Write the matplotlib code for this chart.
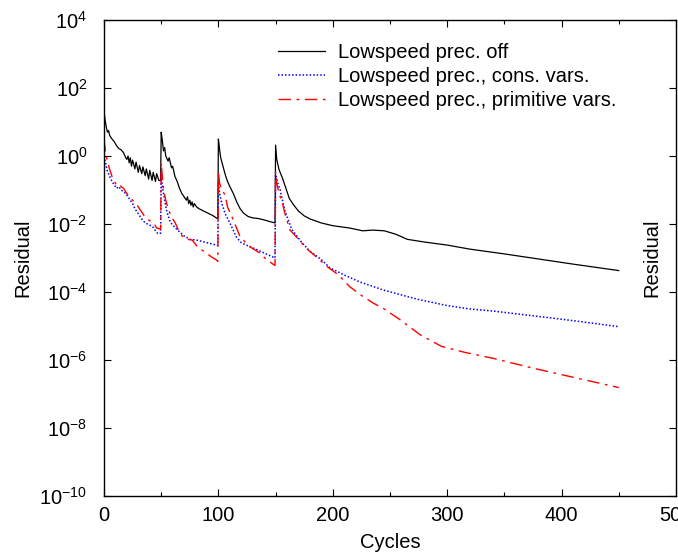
import numpy as np
import matplotlib
matplotlib.use('Agg')
import matplotlib.pyplot as plt
from matplotlib.ticker import FixedLocator, MultipleLocator, LogFormatterMathtext

plt.rcParams['font.family'] = ['Liberation Sans', 'DejaVu Sans']
plt.rcParams['mathtext.default'] = 'regular'
plt.rcParams['font.size'] = 14.5

# residual histories (log10 of residual)
off_cycles = [0, 1, 2, 3, 4, 5, 7, 9, 11, 13, 15, 17, 19, 20, 21, 22, 23, 24, 25, 27, 28,
              30, 31, 33, 34, 36, 37, 39, 40, 42, 43, 45, 46, 48, 49.5,
              50, 51, 52, 53, 54, 56, 57, 59, 60, 62, 64, 66, 68, 70, 72, 73, 74, 75, 76, 77,
              78, 79, 81, 83, 86, 89, 92, 95, 99.5,
              100, 101, 102, 104, 106, 108, 110, 113, 116, 119, 122, 126, 130, 135, 140, 145, 149.5,
              150, 151, 153, 156, 159, 162, 166, 170, 175, 180, 190, 200, 215, 226, 235, 245,
              255, 265, 280, 300, 320, 350, 380, 410, 450]
off_log = [1.3, 1.05, 0.85, 0.7, 0.75, 0.6, 0.5, 0.42, 0.3, 0.22, 0.18, 0.1, -0.05, -0.1, 0.0, -0.2,
           -0.05, -0.3, -0.12, -0.38, -0.18, -0.48, -0.28, -0.52, -0.32, -0.58, -0.38, -0.68, -0.42,
           -0.72, -0.48, -0.75, -0.52, -0.72, -0.72,
           0.7, 0.45, 0.15, 0.25, 0.0, -0.15, -0.05, -0.35, -0.3, -0.6, -0.75, -0.95, -1.1, -1.2,
           -1.3, -1.2, -1.4, -1.3, -1.45, -1.35, -1.5, -1.4, -1.5, -1.55, -1.6, -1.65, -1.7, -1.75,
           -1.85,
           0.5, 0.2, -0.05, -0.3, -0.55, -0.75, -0.9, -1.1, -1.35, -1.55, -1.68, -1.78, -1.82,
           -1.84, -1.88, -1.93, -1.97,
           0.32, -0.1, -0.4, -0.65, -0.95, -1.25, -1.45, -1.62, -1.76, -1.85, -1.97, -2.05, -2.12,
           -2.2, -2.18, -2.2, -2.3, -2.45, -2.53, -2.62, -2.74, -2.88, -3.03, -3.18, -3.37]

cons_cycles = [0, 1, 2, 3, 5, 7, 9, 11, 13, 15, 17, 19, 21, 23, 25, 27, 30, 33, 36, 40, 43, 45,
               47, 49.5,
               50, 51, 53, 55, 58, 62, 65, 70, 75, 82, 91, 99.5,
               100, 101, 103, 106, 110, 116, 120, 125, 134, 143, 149.5,
               150, 152, 154, 158, 164, 173, 180, 190, 197.6, 210, 224, 244, 273.6, 300, 320,
               340, 370, 400, 430, 450]
cons_log = [0.1, -0.15, -0.3, -0.45, -0.6, -0.75, -0.85, -0.95, -0.9, -1.0, -1.05, -1.1, -1.2,
            -1.3, -1.4, -1.55, -1.7, -1.85, -1.97, -2.03, -2.1, -2.2, -2.28, -2.27,
            -0.5, -0.9, -1.3, -1.65, -1.95, -2.1, -2.2, -2.35, -2.45, -2.48, -2.56, -2.63,
            -0.75, -1.1, -1.4, -1.7, -1.97, -2.4, -2.55, -2.63, -2.76, -2.9, -3.0,
            -0.55, -0.8, -1.0, -1.6, -2.15, -2.55, -2.8, -3.05, -3.29, -3.5, -3.71, -3.94, -4.21,
            -4.4, -4.5, -4.56, -4.68, -4.8, -4.93, -5.02]

prim_cycles = [0, 1, 2, 3, 5, 7, 9, 11, 13, 15, 17, 19, 21, 23, 25, 27, 29, 31, 33, 36, 39, 42,
               44, 46, 49.5,
               50, 51, 52, 54, 56, 59, 62, 66, 69, 73, 77, 82, 88, 94, 98, 99.5,
               100, 101, 103, 106, 108, 113, 119, 124, 128, 136, 142.5, 149.5,
               150, 151, 153, 155.6, 159, 162.6, 166, 170, 177, 185, 195, 205, 215, 225, 235,
               245, 259, 276, 295, 316, 340, 375, 413, 450]
prim_log = [0.5, 0.2, 0.0, -0.15, -0.4, -0.6, -0.75, -0.85, -0.82, -0.9, -0.95, -1.05, -1.15,
            -1.2, -1.3, -1.38, -1.45, -1.55, -1.65, -1.8, -1.88, -1.95, -2.0, -2.12, -2.15,
            -0.2, -0.6, -1.0, -1.3, -1.55, -1.8, -1.95, -2.25, -2.38, -2.45, -2.47, -2.68, -2.82,
            -2.97, -3.05, -3.1,
            -0.45, -0.8, -1.0, -1.15, -1.5, -1.88, -2.38, -2.55, -2.68, -2.85, -3.06, -3.22,
            -0.47, -0.8, -1.1, -1.35, -1.8, -2.18, -2.3, -2.45, -2.72, -2.95, -3.25, -3.5, -3.85,
            -4.1, -4.32, -4.5, -4.82, -5.25, -5.6, -5.78, -5.95, -6.24, -6.53, -6.81]

labels = ['Lowspeed prec. off', 'Lowspeed prec., cons. vars.', 'Lowspeed prec., primitive vars.']

fig = plt.figure(figsize=(6.78, 5.56), dpi=100)
ax = fig.add_axes([104/678, 60/556, 572/678, 476/556])

ax.plot(off_cycles, 10.0**np.array(off_log), color='black', lw=0.9, label=labels[0])
ax.plot(cons_cycles, 10.0**np.array(cons_log), color='blue', lw=1.1, dashes=(1, 1.3),
        label=labels[1])
ax.plot(prim_cycles, 10.0**np.array(prim_log), color='red', lw=1.0, dashes=(9, 4, 2, 4),
        label=labels[2])

ax.set_yscale('log')
ax.set_xlim(0, 500)
ax.set_ylim(1e-10, 1e4)
ax.yaxis.set_major_locator(FixedLocator([10.0**k for k in range(-10, 5, 2)]))
ax.yaxis.set_major_formatter(LogFormatterMathtext())
ax.yaxis.set_minor_locator(FixedLocator([]))
ax.xaxis.set_major_locator(MultipleLocator(100))
ax.xaxis.set_minor_locator(MultipleLocator(50))
ax.tick_params(which='both', direction='in', top=True, right=True, width=0.8)
ax.tick_params(which='major', length=5)
ax.tick_params(which='minor', length=3)
ax.tick_params(axis='y', pad=12)
ax.tick_params(axis='x', pad=7)
for s in ax.spines.values():
    s.set_linewidth(1.0)

ax.set_xlabel('Cycles', labelpad=6)
ax.set_ylabel('Residual', labelpad=5)
fig.text(652/678, 1 - 258/556, 'Residual', rotation=90, ha='center', va='center')

ax.legend(loc='upper left', bbox_to_anchor=(0.305, 0.952), frameon=False, borderpad=0,
          borderaxespad=0, handlelength=2.3, handletextpad=0.65, labelspacing=0.25)

fig.savefig('out.png', dpi=100)
